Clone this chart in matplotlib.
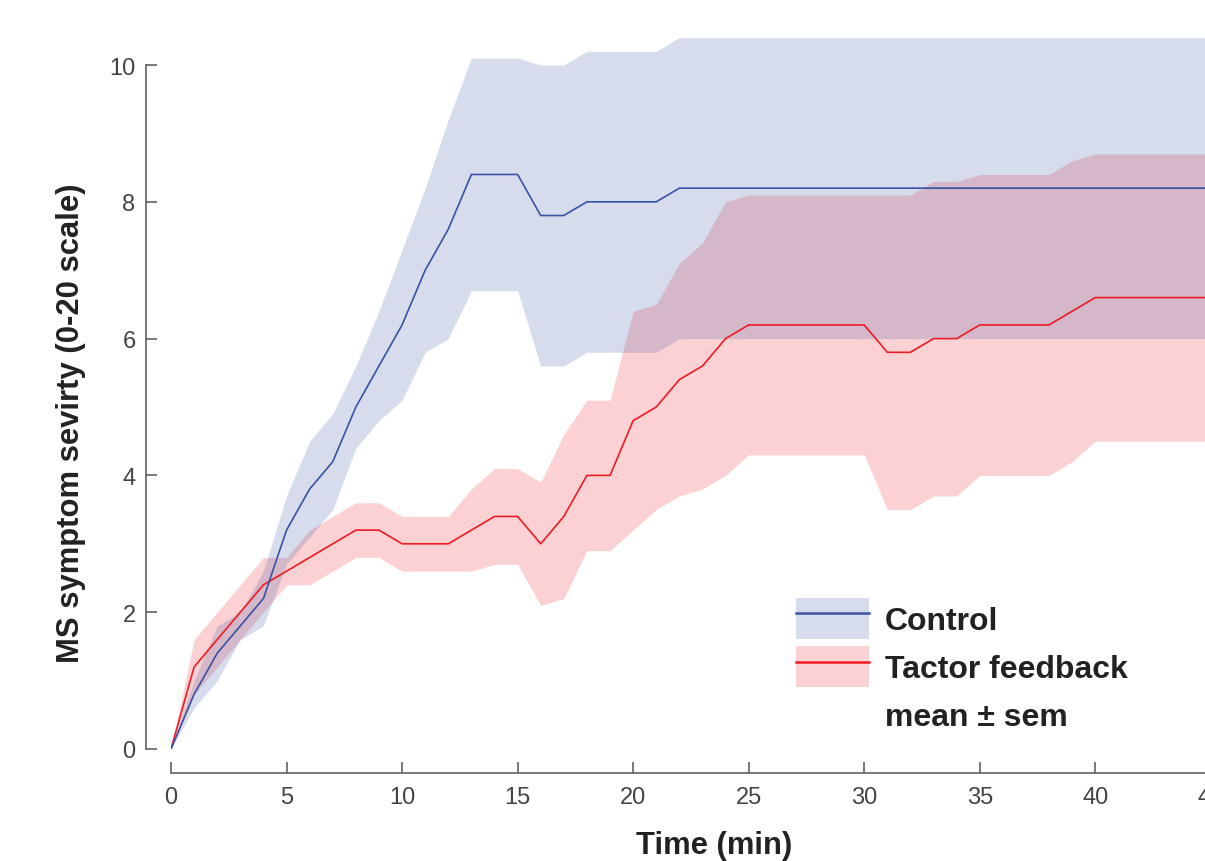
import matplotlib
matplotlib.use('Agg')
import matplotlib.pyplot as plt
from matplotlib.patches import Patch
from matplotlib.lines import Line2D
import numpy as np

plt.rcParams['font.family'] = ['Liberation Sans', 'DejaVu Sans']

# ---- data ----
time_min = [0, 1, 2, 3, 4, 5, 6, 7, 8, 9, 10, 11, 12, 13, 14, 15, 16, 17, 18, 19, 20, 21, 22,
            23, 24, 25, 26, 27, 28, 29, 30, 31, 32, 33, 34, 35, 36, 37, 38, 39, 40, 41, 42, 43, 44, 45]

control_mean = [0.0, 0.8, 1.4, 1.8, 2.2, 3.2, 3.8, 4.2, 5.0, 5.6, 6.2, 7.0, 7.6, 8.4, 8.4, 8.4,
                7.8, 7.8, 8.0, 8.0, 8.0, 8.0, 8.2, 8.2, 8.2, 8.2, 8.2, 8.2, 8.2, 8.2, 8.2,
                8.2, 8.2, 8.2, 8.2, 8.2, 8.2, 8.2, 8.2, 8.2, 8.2, 8.2, 8.2, 8.2, 8.2, 8.2]
control_sem = [0.0, 0.2, 0.4, 0.2, 0.4, 0.5, 0.7, 0.7, 0.6, 0.8, 1.1, 1.2, 1.6, 1.7, 1.7, 1.7,
               2.2, 2.2, 2.2, 2.2, 2.2, 2.2, 2.2, 2.2, 2.2, 2.2, 2.2, 2.2, 2.2, 2.2, 2.2,
               2.2, 2.2, 2.2, 2.2, 2.2, 2.2, 2.2, 2.2, 2.2, 2.2, 2.2, 2.2, 2.2, 2.2, 2.2]

tactor_mean = [0.0, 1.2, 1.6, 2.0, 2.4, 2.6, 2.8, 3.0, 3.2, 3.2, 3.0, 3.0, 3.0, 3.2, 3.4, 3.4,
               3.0, 3.4, 4.0, 4.0, 4.8, 5.0, 5.4, 5.6, 6.0, 6.2, 6.2, 6.2, 6.2, 6.2, 6.2,
               5.8, 5.8, 6.0, 6.0, 6.2, 6.2, 6.2, 6.2, 6.4, 6.6, 6.6, 6.6, 6.6, 6.6, 6.6]
tactor_sem = [0.0, 0.4, 0.4, 0.4, 0.4, 0.2, 0.4, 0.4, 0.4, 0.4, 0.4, 0.4, 0.4, 0.6, 0.7, 0.7,
              0.9, 1.2, 1.1, 1.1, 1.6, 1.5, 1.7, 1.8, 2.0, 1.9, 1.9, 1.9, 1.9, 1.9, 1.9,
              2.3, 2.3, 2.3, 2.3, 2.2, 2.2, 2.2, 2.2, 2.2, 2.1, 2.1, 2.1, 2.1, 2.1, 2.1]

x_ticks = [0, 5, 10, 15, 20, 25, 30, 35, 40, 45]
y_ticks = [0, 2, 4, 6, 8, 10]
series_labels = ['Control', 'Tactor feedback', 'mean \u00b1 sem']

blue = '#3853A4'
red = '#ED1C24'

# ---- figure ----
W, H = 1205, 862
fig = plt.figure(figsize=(W / 100, H / 100), dpi=100)
ax = fig.add_axes([171 / W, 112 / H, 1086 / W, 725 / H])

t = np.array(time_min)
cm, cs = np.array(control_mean), np.array(control_sem)
tm, ts = np.array(tactor_mean), np.array(tactor_sem)

ax.fill_between(t, tm - ts, tm + ts, color=red, alpha=0.2, lw=0)
ax.plot(t, tm, color=red, lw=1.2)
ax.fill_between(t, cm - cs, cm + cs, color=blue, alpha=0.2, lw=0)
ax.plot(t, cm, color=blue, lw=1.2)

ax.set_xlim(0, 47)
ax.set_ylim(0, 10.6)
ax.set_xticks(x_ticks)
ax.set_yticks(y_ticks)

for s in ['top', 'right']:
    ax.spines[s].set_visible(False)
ax.spines['left'].set_position(('outward', 18))
ax.spines['bottom'].set_position(('outward', 17.3))
ax.spines['left'].set_bounds(0, 10)
ax.spines['bottom'].set_bounds(0, 47)
for s in ['left', 'bottom']:
    ax.spines[s].set_color('#555555')
    ax.spines[s].set_linewidth(1.1)

ax.tick_params(direction='in', length=8, width=1.1, color='#555555',
               labelcolor='#444444', labelsize=17)
ax.tick_params(axis='x', pad=9)
ax.tick_params(axis='y', pad=7.5)

ax.set_xlabel('Time (min)', fontsize=22.3, fontweight='bold', color='#222222')
ax.set_ylabel('MS symptom sevirty (0-20 scale)', fontsize=22.3, fontweight='bold', color='#222222')
ax.xaxis.set_label_coords(0.5, -0.1117)
ax.yaxis.set_label_coords(-0.0783, 0.451)

handles = [
    (Patch(facecolor=blue, alpha=0.2, lw=0), Line2D([], [], color=blue, lw=1.8)),
    (Patch(facecolor=red, alpha=0.2, lw=0), Line2D([], [], color=red, lw=1.8)),
    Patch(facecolor='none', edgecolor='none'),
]
leg = ax.legend(handles, series_labels, loc='upper left', bbox_to_anchor=(0.5755, 0.2083),
                frameon=False, prop={'size': 23, 'weight': 'bold'},
                handlelength=2.29, handleheight=1.60, handletextpad=0.50,
                labelspacing=0.22, borderpad=0, borderaxespad=0)
for txt in leg.get_texts():
    txt.set_color('#222222')

fig.savefig('out.png', dpi=100)
